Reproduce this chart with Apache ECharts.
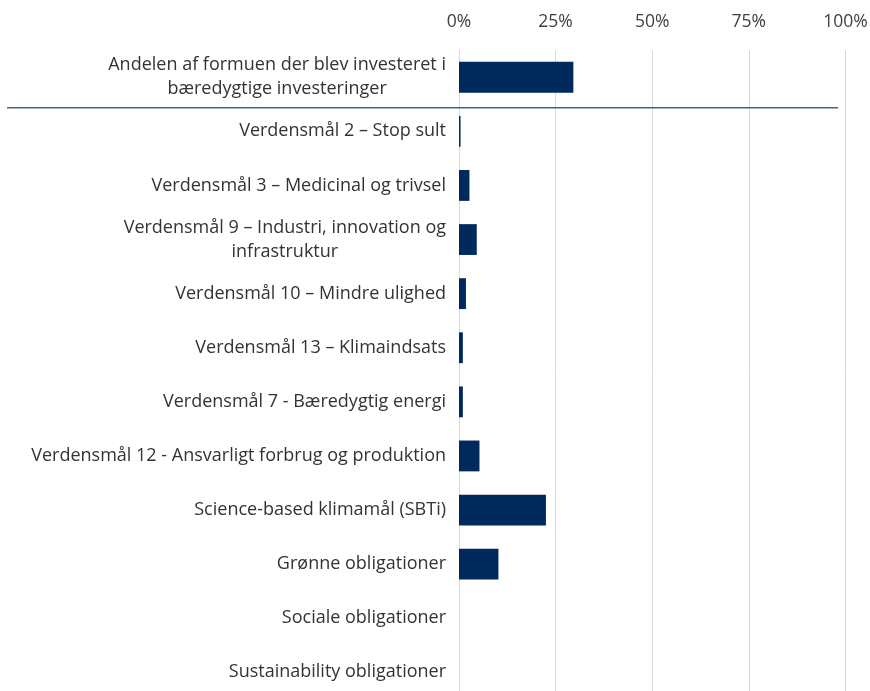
<!DOCTYPE html>
<html>
<head>
<meta charset="utf-8">
<script src="https://cdn.jsdelivr.net/npm/echarts@6/dist/echarts.min.js"></script>
<style>html,body{margin:0;padding:0;background:#fff}#c{width:870px;height:691px}</style>
</head>
<body>
<div id="c"></div>
<script>
const categories = [
  "Andelen af formuen der blev investeret i\nbæredygtige investeringer",
  "Verdensmål 2 – Stop sult",
  "Verdensmål 3 – Medicinal og trivsel",
  "Verdensmål 9 – Industri, innovation og\ninfrastruktur",
  "Verdensmål 10 – Mindre ulighed",
  "Verdensmål 13 – Klimaindsats",
  "Verdensmål 7 - Bæredygtig energi",
  "Verdensmål 12 - Ansvarligt forbrug og produktion",
  "Science-based klimamål (SBTi)",
  "Grønne obligationer",
  "Sociale obligationer",
  "Sustainability obligationer"
];
const values = [29.6, 0.4, 2.7, 4.6, 1.8, 1.0, 1.0, 5.3, 22.5, 10.2, 0, 0];
const tickLabels = ["0%", "25%", "50%", "75%", "100%"];

const FONT = "Open Sans";
const FS = 18;
const chart = echarts.init(document.getElementById('c'), null, {renderer: 'canvas'});
chart.setOption({
  animation: false,
  backgroundColor: '#ffffff',
  grid: {left: 459, right: 870 - 845.4, top: 50.2, height: 649.2, containLabel: false, outerBoundsMode: 'none'},
  xAxis: {
    type: 'value', position: 'top', min: 0, max: 100, interval: 25,
    axisLine: {show: false}, axisTick: {show: false},
    splitLine: {show: true, lineStyle: {color: '#d9d9d9', width: 1}},
    axisLabel: {
      margin: 19, color: '#404040', fontFamily: FONT, fontSize: 17.5,
      formatter: v => tickLabels[Math.round(v / 25)]
    }
  },
  yAxis: {
    type: 'category', inverse: true, data: categories,
    axisLine: {show: true, lineStyle: {color: '#d9d9d9'}}, axisTick: {show: false},
    axisLabel: {
      margin: 13, color: '#333333', fontFamily: FONT, fontSize: FS, lineHeight: 24,
      formatter: function (v) {
        if (v.indexOf('\n') >= 0) {
          return v.split('\n').map(s => '{c|' + s + '}').join('\n');
        }
        return v;
      },
      rich: {c: {align: 'center', fontFamily: FONT, fontSize: FS, color: '#333333', lineHeight: 24}}
    }
  },
  series: [{
    type: 'bar', data: values, barWidth: '57%',
    itemStyle: {color: '#002a5c'}
  }]
});
const y0 = chart.convertToPixel({yAxisIndex: 0}, 0);
const y1 = chart.convertToPixel({yAxisIndex: 0}, 1);
const ySep = (y0 + y1) / 2 + 3.5;
chart.setOption({
  graphic: [{
    type: 'line', shape: {x1: 7, y1: ySep, x2: 838, y2: ySep},
    style: {stroke: '#44628a', lineWidth: 1.5}, z: 100
  }]
});
</script>
</body>
</html>
